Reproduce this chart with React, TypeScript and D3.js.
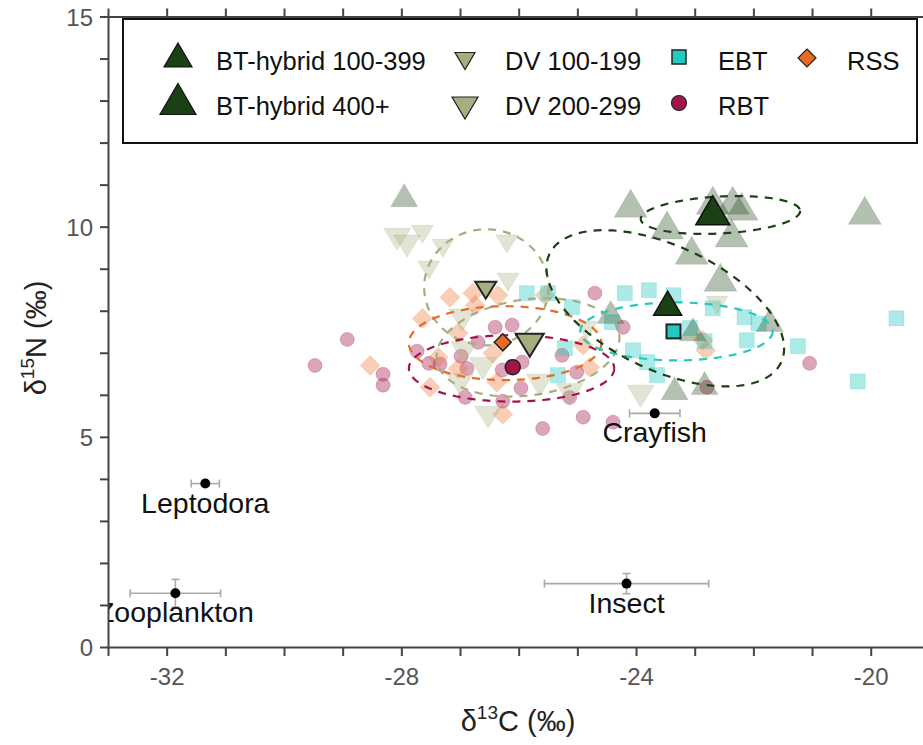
import React from "react";
import * as d3 from "d3";

const W = 923;
const H = 745;
const X_DOMAIN: [number, number] = [-33, -19];
const Y_DOMAIN: [number, number] = [0, 15];
const X_TICK_LABELS = [-32, -28, -24, -20];
const Y_TICK_LABELS = [0, 5, 10, 15];

// individual fish [d13C, d15N]
const btHybrid100 = [
  [-27.96, 10.76], [-24.44, 7.98], [-23.04, 7.57], [-21.73, 7.79], [-23.35, 6.17], [-22.84, 6.29],
];
const btHybrid400 = [
  [-24.1, 10.57], [-23.48, 10.05], [-22.7, 10.64], [-22.36, 10.64], [-22.21, 10.5],
  [-22.38, 9.86], [-23.06, 9.45], [-20.11, 10.4], [-22.57, 8.81],
];
const dv100 = [
  [-27.65, 9.83], [-27.3, 9.5], [-27.54, 8.98], [-26.21, 9.6], [-26.19, 8.69], [-24.85, 7.55], [-22.63, 8.14],
];
const dv200 = [
  [-28.08, 9.71], [-27.91, 9.55], [-26.97, 7.79], [-26.94, 7.02], [-26.62, 6.64], [-27.01, 6.26],
  [-26.53, 5.48], [-25.65, 6.24], [-25.14, 6.02], [-23.93, 5.98],
];
const ebt = [
  [-25.87, 8.43], [-25.51, 8.43], [-25.1, 8.1], [-24.42, 7.74], [-25.22, 7.12], [-25.34, 6.48],
  [-24.2, 8.43], [-23.79, 8.5], [-23.37, 8.38], [-23.09, 7.6], [-22.7, 8.07], [-22.16, 7.86],
  [-21.92, 7.71], [-22.12, 7.31], [-21.25, 7.17], [-24.06, 7.07], [-23.82, 6.79], [-23.65, 6.48],
  [-22.84, 7.29], [-19.57, 7.83], [-20.23, 6.33],
];
const rss = [
  [-28.54, 6.71], [-27.65, 7.83], [-27.18, 8.33], [-26.79, 8.43], [-26.75, 8.14], [-26.36, 8.38],
  [-27.04, 7.48], [-27.38, 6.9], [-27.52, 6.19], [-27.04, 6.64], [-26.45, 7.0], [-26.38, 6.31],
  [-26.28, 5.55], [-25.56, 8.38], [-24.91, 7.19], [-24.8, 6.67], [-22.87, 7.31], [-22.82, 7.07],
];
const rbt = [
  [-29.48, 6.71], [-28.93, 7.33], [-28.32, 6.5], [-28.32, 6.24], [-27.74, 7.05], [-27.54, 6.76],
  [-27.35, 6.74], [-26.99, 6.93], [-26.89, 6.64], [-26.7, 7.26], [-26.41, 7.62], [-26.12, 7.67],
  [-26.92, 5.95], [-26.28, 5.86], [-26.29, 6.6], [-25.97, 6.17], [-25.95, 6.79], [-25.27, 6.95],
  [-25.02, 6.55], [-25.14, 5.95], [-24.91, 5.48], [-25.6, 5.21], [-24.71, 8.43], [-24.23, 7.62],
  [-24.4, 5.36], [-22.8, 6.19], [-21.05, 6.76],
];

// group means [d13C, d15N]
const meanBt100 = [-23.47, 8.19];
const meanBt400 = [-22.7, 10.4];
const meanDv100 = [-26.57, 8.5];
const meanDv200 = [-25.82, 7.19];
const meanEbt = [-23.37, 7.52];
const meanRss = [-26.28, 7.26];
const meanRbt = [-26.11, 6.67];

// ellipses: [cx, cy, rx (x units), ry (y units), angle deg]
const ellBt400 = [-22.57, 10.29, 1.36, 0.44, -3];
const ellBt100 = [-23.51, 8.07, 2.18, 1.48, 25];
const ellDv100 = [-26.56, 8.57, 1.06, 1.38, 0];
const ellDv200 = [-25.85, 7.14, 1.57, 1.14, -8];
const ellRss = [-26.24, 7.24, 1.64, 0.88, 0];
const ellRbt = [-26.13, 6.64, 1.75, 0.79, 0];
const ellEbt = [-23.32, 7.52, 1.64, 0.69, 0];

// prey sources
const sourceNames = ["Leptodora", "Zooplankton", "Insect", "Crayfish"];
const sourceX = [-31.35, -31.86, -24.17, -23.69];
const sourceY = [3.9, 1.29, 1.52, 5.57];
const sourceXErr = [0.24, 0.77, 1.4, 0.43];
const sourceYErr = [0.05, 0.33, 0.24, 0.05];

const C_BT = "#1a4013";
const C_DV = "#a8ad7f";
const C_EBT = "#22c9bf";
const C_RSS = "#ea6a24";
const C_RBT = "#a3144a";

const FONT = "'Liberation Sans', Arial, sans-serif";

const x = d3.scaleLinear().domain(X_DOMAIN).range([108.5, 108.5 + 14 * 58.67]);
const y = d3.scaleLinear().domain(Y_DOMAIN).range([647.5, 17]);

function triUp(cx: number, cy: number, w: number, h: number) {
  return `M${cx},${cy - h / 2}L${cx + w / 2},${cy + h / 2}L${cx - w / 2},${cy + h / 2}Z`;
}
function triDown(cx: number, cy: number, w: number, h: number) {
  return `M${cx - w / 2},${cy - h / 2}L${cx + w / 2},${cy - h / 2}L${cx},${cy + h / 2}Z`;
}
function diamond(cx: number, cy: number, s: number) {
  return `M${cx},${cy - s / 2}L${cx + s / 2},${cy}L${cx},${cy + s / 2}L${cx - s / 2},${cy}Z`;
}
function ellipsePath(e: number[]) {
  const [cx, cy, rx, ry, ang] = e;
  const px = x(cx), py = y(cy);
  const a = rx * 58.67, b = ry * 42.03;
  const th = (ang * Math.PI) / 180;
  const pts: [number, number][] = d3.range(0, 361, 3).map((deg) => {
    const t = (deg * Math.PI) / 180;
    const lx = a * Math.cos(t), ly = b * Math.sin(t);
    return [px + lx * Math.cos(th) - ly * Math.sin(th), py + lx * Math.sin(th) + ly * Math.cos(th)];
  });
  return d3.line()(pts) as string;
}

const IND_OP = 0.38;

export default function App() {
  const xMinor = d3.range(-33, -18, 1);
  const yMinor = d3.range(0, 16, 1);
  const ellipses: [number[], string][] = [
    [ellDv100, C_DV], [ellDv200, C_DV], [ellRss, C_RSS], [ellRbt, C_RBT],
    [ellEbt, C_EBT], [ellBt100, C_BT], [ellBt400, C_BT],
  ];
  return (
    <svg width={W} height={H} style={{ position: "absolute", left: 0, top: 0, background: "#fff" }} fontFamily={FONT}>
      <defs>
        <clipPath id="plotclip">
          <rect x={109} y={17} width={W - 109} height={631} />
        </clipPath>
      </defs>
      <g clipPath="url(#plotclip)">
        {/* individuals */}
        {rbt.map((d, i) => (
          <circle key={"rbt" + i} cx={x(d[0])} cy={y(d[1])} r={7} fill={C_RBT} fillOpacity={IND_OP} stroke={C_RBT} strokeOpacity={0.25} strokeWidth={1} />
        ))}
        {rss.map((d, i) => (
          <path key={"rss" + i} d={diamond(x(d[0]), y(d[1]), 20)} fill={C_RSS} fillOpacity={0.33} stroke={C_RSS} strokeOpacity={0.15} />
        ))}
        {ebt.map((d, i) => (
          <rect key={"ebt" + i} x={x(d[0]) - 7.5} y={y(d[1]) - 7.5} width={15} height={15} fill={C_EBT} fillOpacity={0.38} stroke={C_EBT} strokeOpacity={0.2} />
        ))}
        {dv200.map((d, i) => (
          <path key={"dv2" + i} d={triDown(x(d[0]), y(d[1]), 27, 22)} fill={C_DV} fillOpacity={0.33} stroke={C_DV} strokeOpacity={0.2} />
        ))}
        {dv100.map((d, i) => (
          <path key={"dv1" + i} d={triDown(x(d[0]), y(d[1]), 22, 18)} fill={C_DV} fillOpacity={0.33} stroke={C_DV} strokeOpacity={0.2} />
        ))}
        {btHybrid100.map((d, i) => (
          <path key={"bt1" + i} d={triUp(x(d[0]), y(d[1]), 27, 23)} fill={C_BT} fillOpacity={0.33} stroke={C_BT} strokeOpacity={0.1} />
        ))}
        {btHybrid400.map((d, i) => (
          <path key={"bt4" + i} d={triUp(x(d[0]), y(d[1]), 33, 28)} fill={C_BT} fillOpacity={0.33} stroke={C_BT} strokeOpacity={0.1} />
        ))}
        {/* ellipses */}
        {ellipses.map(([e, c], i) => (
          <path key={"el" + i} d={ellipsePath(e)} fill="none" stroke={c} strokeWidth={2.2} strokeDasharray="8 7" />
        ))}
        {/* means */}
        <path d={triDown(x(meanDv100[0]), y(meanDv100[1]), 21, 17)} fill={C_DV} stroke="#222" strokeWidth={2} />
        <path d={triDown(x(meanDv200[0]), y(meanDv200[1]), 28, 23)} fill={C_DV} stroke="#222" strokeWidth={2} />
        <path d={diamond(x(meanRss[0]), y(meanRss[1]), 17)} fill={C_RSS} stroke="#222" strokeWidth={1.5} />
        <circle cx={x(meanRbt[0])} cy={y(meanRbt[1])} r={7.5} fill={C_RBT} stroke="#222" strokeWidth={1.5} />
        <rect x={x(meanEbt[0]) - 7} y={y(meanEbt[1]) - 7} width={14} height={14} fill={C_EBT} stroke="#222" strokeWidth={2} />
        <path d={triUp(x(meanBt100[0]), y(meanBt100[1]), 28, 24)} fill={C_BT} stroke="#111" strokeWidth={1.5} />
        <path d={triUp(x(meanBt400[0]), y(meanBt400[1]), 34, 29)} fill={C_BT} stroke="#111" strokeWidth={1.5} />
        {/* sources */}
        {sourceNames.map((n, i) => {
          const cx = x(sourceX[i]), cy = y(sourceY[i]);
          const x0 = x(sourceX[i] - sourceXErr[i]), x1 = x(sourceX[i] + sourceXErr[i]);
          const y0 = y(sourceY[i] - sourceYErr[i]), y1 = y(sourceY[i] + sourceYErr[i]);
          return (
            <g key={n}>
              <g stroke="#aaa" strokeWidth={1.6}>
                <line x1={x0} x2={x1} y1={cy} y2={cy} />
                <line x1={x0} x2={x0} y1={cy - 4} y2={cy + 4} />
                <line x1={x1} x2={x1} y1={cy - 4} y2={cy + 4} />
                <line x1={cx} x2={cx} y1={y0} y2={y1} />
                <line x1={cx - 4} x2={cx + 4} y1={y0} y2={y0} />
                <line x1={cx - 4} x2={cx + 4} y1={y1} y2={y1} />
              </g>
              <circle cx={cx} cy={cy} r={5} fill="#000" />
              <text x={cx} y={cy + 29} textAnchor="middle" fontSize={28.5} fill="#111">{n}</text>
            </g>
          );
        })}
      </g>

      {/* axes */}
      <g stroke="#444" strokeWidth={2} fill="none">
        <line x1={108.5} x2={108.5} y1={16} y2={648.5} />
        <line x1={107.5} x2={W} y1={647.5} y2={647.5} />
        <line x1={107.5} x2={W} y1={17} y2={17} />
        {xMinor.map((v) => (
          <g key={"xt" + v}>
            <line x1={x(v)} x2={x(v)} y1={647.5} y2={656} />
            <line x1={x(v)} x2={x(v)} y1={17} y2={8.5} />
          </g>
        ))}
        {yMinor.map((v) => (
          <line key={"yt" + v} x1={108.5} x2={100} y1={y(v)} y2={y(v)} />
        ))}
      </g>
      {X_TICK_LABELS.map((v) => (
        <text key={"xl" + v} x={x(v)} y={685} textAnchor="middle" fontSize={24} fill="#555">{v}</text>
      ))}
      {Y_TICK_LABELS.map((v) => (
        <text key={"yl" + v} x={93} y={y(v) + 8.5} textAnchor="end" fontSize={24} fill="#555">{v}</text>
      ))}
      <text x={518} y={731} textAnchor="middle" fontSize={29} fill="#222">
        δ<tspan dy={-12} fontSize={19}>13</tspan><tspan dy={12}>C (‰)</tspan>
      </text>
      <text transform="translate(46,338) rotate(-90)" textAnchor="middle" fontSize={29} fill="#222">
        δ<tspan dy={-12} fontSize={19}>15</tspan><tspan dy={12}>N (‰)</tspan>
      </text>

      {/* legend */}
      <rect x={123} y={19} width={794} height={124} fill="#fff" stroke="#111" strokeWidth={2} />
      <path d={triUp(178, 55, 28, 24)} fill={C_BT} stroke="#111" strokeWidth={1.2} />
      <path d={triUp(178, 99, 36, 31)} fill={C_BT} stroke="#111" strokeWidth={1.2} />
      <path d={triDown(465, 61, 20, 17)} fill={C_DV} stroke="#222" strokeWidth={1.2} />
      <path d={triDown(465, 108, 26, 22)} fill={C_DV} stroke="#222" strokeWidth={1.2} />
      <rect x={672} y={50} width={14} height={14} fill={C_EBT} stroke="#222" strokeWidth={1.5} />
      <circle cx={679} cy={103} r={7.5} fill={C_RBT} stroke="#222" strokeWidth={1.2} />
      <path d={diamond(807, 58, 18)} fill={C_RSS} stroke="#222" strokeWidth={1.2} />
      <g fontSize={25.5} fill="#111">
        <text x={216} y={70}>BT-hybrid 100-399</text>
        <text x={216} y={115}>BT-hybrid 400+</text>
        <text x={505} y={70}>DV 100-199</text>
        <text x={505} y={115}>DV 200-299</text>
        <text x={718} y={70}>EBT</text>
        <text x={718} y={115}>RBT</text>
        <text x={847} y={70}>RSS</text>
      </g>
    </svg>
  );
}
